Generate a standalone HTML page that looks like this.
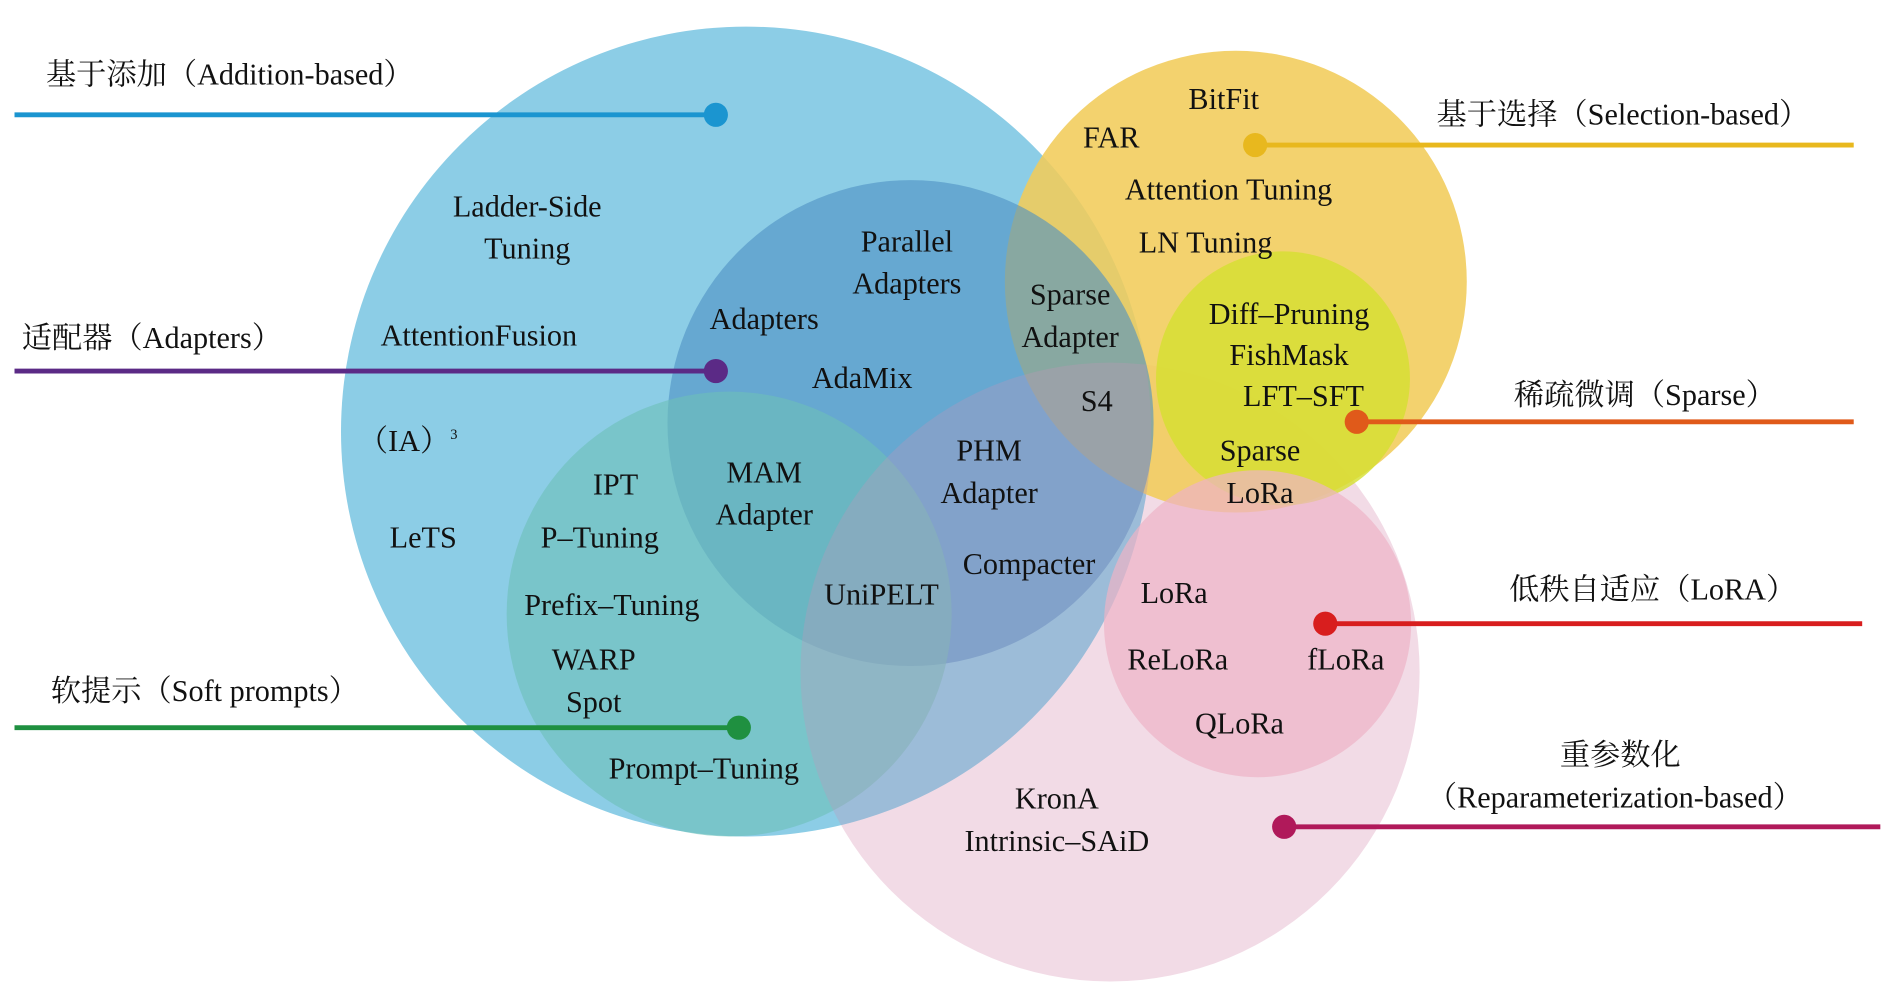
<!DOCTYPE html>
<html><head><meta charset="utf-8"><style>
html,body{margin:0;padding:0;background:#fff}
svg{display:block}
text{font-family:"Liberation Serif","Noto Serif CJK SC",serif;font-size:25px;fill:#111}
</style></head><body>
<svg width="1890" height="996" viewBox="0 0 1563 824" preserveAspectRatio="none" xmlns="http://www.w3.org/2000/svg">
<defs><clipPath id="cb"><circle cx="617" cy="357" r="335"/></clipPath></defs>
<rect width="1563" height="824" fill="#fff"/>
<circle cx="918" cy="556" r="256" fill="#f2dbe6"/>
<circle cx="617" cy="357" r="335" fill="#8ccde6"/>
<circle cx="1022" cy="233" r="191" fill="#f1cc5a" fill-opacity="0.88"/>
<circle cx="753" cy="350" r="201" fill="#4f92c4" fill-opacity="0.62"/>
<circle cx="603" cy="508" r="184" fill="#6cc0b8" fill-opacity="0.6"/>
<circle cx="918" cy="556" r="256" fill="#c294b8" fill-opacity="0.3" clip-path="url(#cb)"/>
<circle cx="1061" cy="313" r="105" fill="#d4e030" fill-opacity="0.8"/>
<circle cx="1040" cy="516" r="127" fill="#eeb4c6" fill-opacity="0.7"/>

<g stroke-width="4">
<line x1="12" y1="95" x2="592" y2="95" stroke="#1b95d0"/>
<line x1="12" y1="307" x2="592" y2="307" stroke="#5b2a86"/>
<line x1="12" y1="602" x2="611" y2="602" stroke="#1f9040"/>
<line x1="1038" y1="120" x2="1533" y2="120" stroke="#e8b81e"/>
<line x1="1122" y1="349" x2="1533" y2="349" stroke="#e05a1a"/>
<line x1="1096" y1="516" x2="1540" y2="516" stroke="#d81e1e"/>
<line x1="1062" y1="684" x2="1555" y2="684" stroke="#b0195a"/>
</g>
<circle cx="592" cy="95" r="10" fill="#1b95d0"/>
<circle cx="592" cy="307" r="10" fill="#5b2a86"/>
<circle cx="611" cy="602" r="10" fill="#1f9040"/>
<circle cx="1038" cy="120" r="10" fill="#e8b81e"/>
<circle cx="1122" cy="349" r="10" fill="#e05a1a"/>
<circle cx="1096" cy="516" r="10" fill="#d81e1e"/>
<circle cx="1062" cy="684" r="10" fill="#b0195a"/>

<text x="38" y="70">基于添加（Addition-based）</text>
<text x="18" y="288">适配器（Adapters）</text>
<text x="42" y="580">软提示（Soft prompts）</text>
<text x="1188" y="103">基于选择（Selection-based）</text>
<text x="1252" y="335">稀疏微调（Sparse）</text>
<text x="1248" y="496">低秩自适应（LoRA）</text>
<text x="1290" y="633">重参数化</text>
<text x="1180" y="668">（Reparameterization-based）</text>

<g text-anchor="middle">
<text x="436" y="179">Ladder-Side</text>
<text x="436" y="214">Tuning</text>
<text x="396" y="286">AttentionFusion</text>
<text x="350" y="453">LeTS</text>
<text x="750" y="208">Parallel</text>
<text x="750" y="243">Adapters</text>
<text x="632" y="272">Adapters</text>
<text x="713" y="321">AdaMix</text>
<text x="509" y="409">IPT</text>
<text x="496" y="453">P–Tuning</text>
<text x="632" y="399">MAM</text>
<text x="632" y="434">Adapter</text>
<text x="818" y="381">PHM</text>
<text x="818" y="416">Adapter</text>
<text x="851" y="475">Compacter</text>
<text x="729" y="500">UniPELT</text>
<text x="506" y="509">Prefix–Tuning</text>
<text x="491" y="554">WARP</text>
<text x="491" y="589">Spot</text>
<text x="582" y="644">Prompt–Tuning</text>
<text x="1012" y="90">BitFit</text>
<text x="919" y="122">FAR</text>
<text x="1016" y="165">Attention Tuning</text>
<text x="997" y="209">LN Tuning</text>
<text x="885" y="252">Sparse</text>
<text x="885" y="287">Adapter</text>
<text x="907" y="340">S4</text>
<text x="1066" y="268">Diff–Pruning</text>
<text x="1066" y="302">FishMask</text>
<text x="1078" y="336">LFT–SFT</text>
<text x="1042" y="381">Sparse</text>
<text x="1042" y="416">LoRa</text>
<text x="971" y="499">LoRa</text>
<text x="974" y="554">ReLoRa</text>
<text x="1113" y="554">fLoRa</text>
<text x="1025" y="607">QLoRa</text>
<text x="874" y="669">KronA</text>
<text x="874" y="704">Intrinsic–SAiD</text>
</g>
<text x="296" y="373">（IA）<tspan font-size="12" dy="-10">3</tspan></text>
</svg>
</body></html>
